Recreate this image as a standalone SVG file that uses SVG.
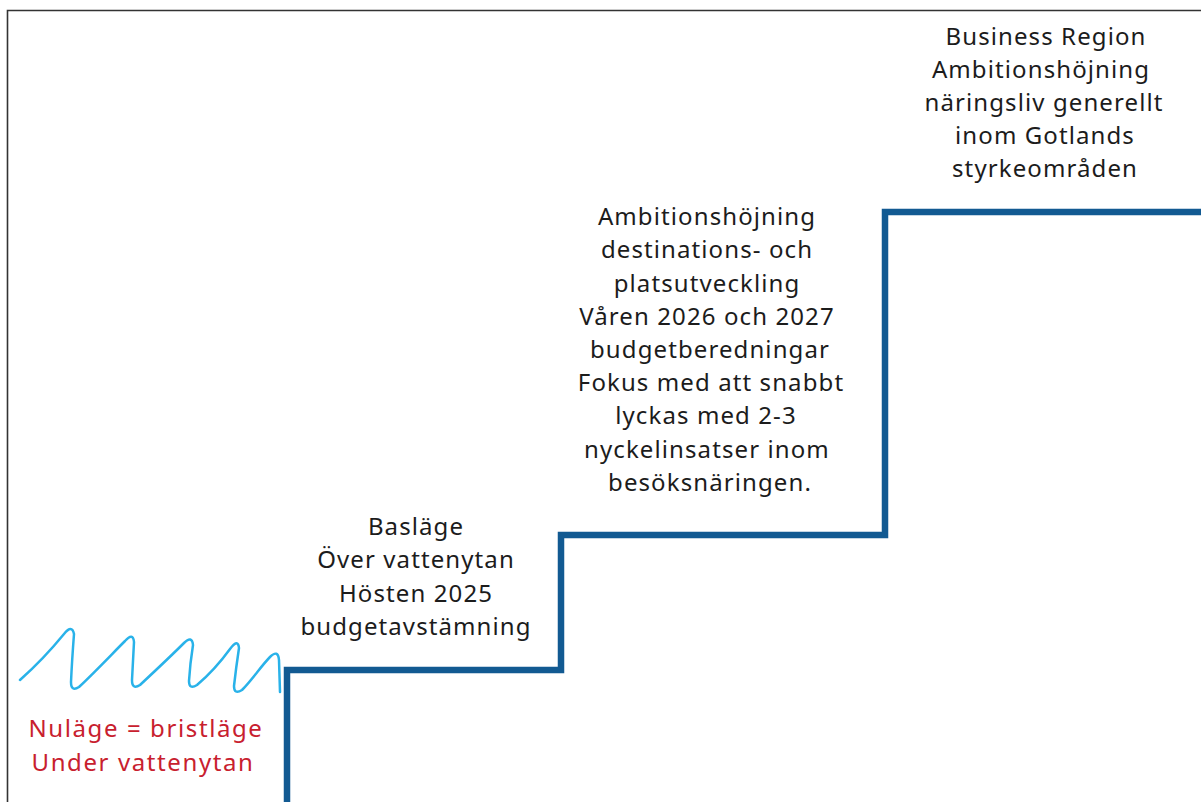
<svg xmlns="http://www.w3.org/2000/svg" width="1201" height="802" viewBox="0 0 1201 802">
  <style>
    .lbl { font-family: "Noto Sans", "Lato", "DejaVu Sans", sans-serif; font-size: 24px; letter-spacing: 1.1px; fill: #1c1c1c; text-anchor: middle; }
    .red { fill: #c8202e; letter-spacing: 1.6px; }
    .frame { fill: none; stroke: #333; stroke-width: 1.6; }
    .stair { fill: none; stroke: #125a92; stroke-width: 6.5; stroke-linejoin: miter; }
    .wave { fill: none; stroke: #29b2e9; stroke-width: 2.5; stroke-linecap: round; stroke-linejoin: round; }
  </style>
  <rect width="1201" height="802" fill="#ffffff"/>

  <!-- page frame: top and left edge -->
  <path class="frame" d="M7.5,802 V10.5 H1201"/>

  <!-- water surface -->
  <g id="water">
    <path class="wave" d="M20,680 C38,664 55,645 64,634 Q72,624 74,634 Q72,660 71,682 Q71,692 79,687 C95,672 112,654 125,641 Q133,632 134,642 Q133,662 132,680 Q132,690 140,685 C155,671 172,655 184,643 Q192,635 193,645 Q190,664 189,681 Q189,690 197,685 C210,674 222,660 230,649 Q238,638 239,648 Q236,668 234,686 Q234,695 242,690 C252,680 262,665 270,657 Q278,649 279,660 L280,692"/>
  </g>

  <!-- staircase -->
  <g id="connectors">
    <path class="stair" d="M287,802 V670 H561 V535 H885 V212 H1201"/>
  </g>

  <g id="nulage">
    <text class="lbl red" x="146" y="737">Nuläge = bristläge</text>
    <text class="lbl red" x="143" y="771">Under vattenytan</text>
  </g>

  <g id="baslage">
    <text class="lbl" x="416" y="535">Basläge</text>
    <text class="lbl" x="416" y="568">Över vattenytan</text>
    <text class="lbl" x="416" y="602">Hösten 2025</text>
    <text class="lbl" x="416" y="635">budgetavstämning</text>
  </g>

  <g id="destination">
    <text class="lbl" x="707" y="225">Ambitionshöjning</text>
    <text class="lbl" x="707" y="258">destinations- och</text>
    <text class="lbl" x="707" y="292">platsutveckling</text>
    <text class="lbl" x="707" y="325">Våren 2026 och 2027</text>
    <text class="lbl" x="710" y="358">budgetberedningar</text>
    <text class="lbl" x="711" y="391">Fokus med att snabbt</text>
    <text class="lbl" x="706" y="424">lyckas med 2-3</text>
    <text class="lbl" x="707" y="458">nyckelinsatser inom</text>
    <text class="lbl" x="710" y="491">besöksnäringen.</text>
  </g>

  <g id="business-region">
    <text class="lbl" x="1046" y="45">Business Region</text>
    <text class="lbl" x="1041" y="78">Ambitionshöjning</text>
    <text class="lbl" x="1044" y="111">näringsliv generellt</text>
    <text class="lbl" x="1045" y="144">inom Gotlands</text>
    <text class="lbl" x="1045" y="177">styrkeområden</text>
  </g>
</svg>
